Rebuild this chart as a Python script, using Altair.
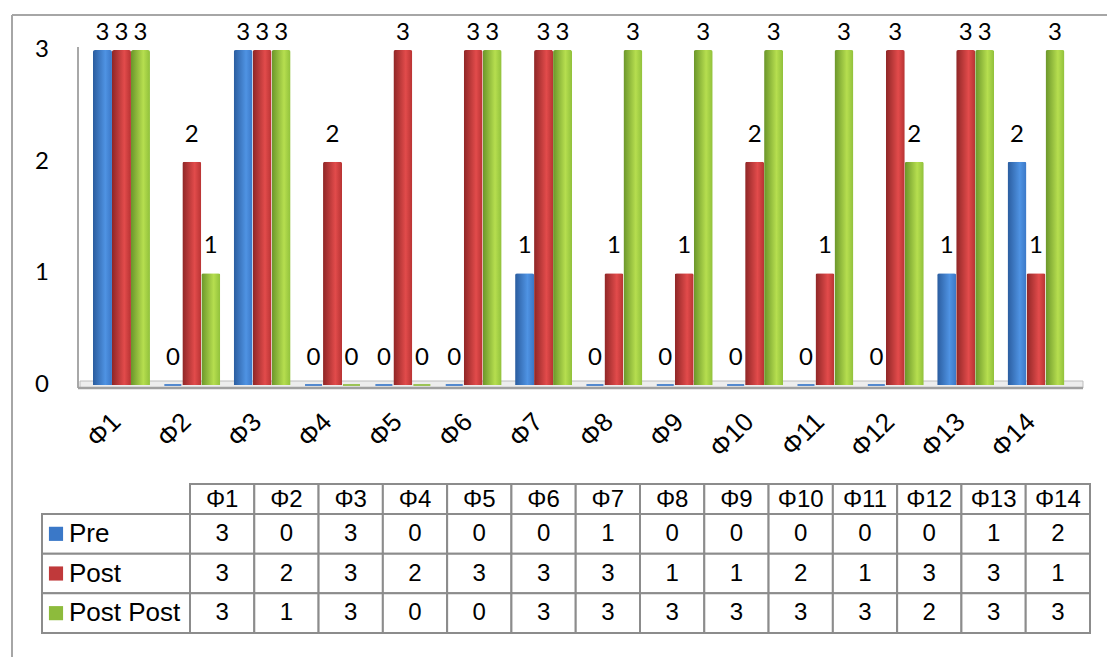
import altair as alt
import pandas as pd

# ---- data -------------------------------------------------------------
categories = ["Φ1", "Φ2", "Φ3", "Φ4", "Φ5", "Φ6", "Φ7",
              "Φ8", "Φ9", "Φ10", "Φ11", "Φ12", "Φ13", "Φ14"]
series = ["Pre", "Post", "Post Post"]
pre = [3, 0, 3, 0, 0, 0, 1, 0, 0, 0, 0, 0, 1, 2]
post = [3, 2, 3, 2, 3, 3, 3, 1, 1, 2, 1, 3, 3, 1]
post_post = [3, 1, 3, 0, 0, 3, 3, 3, 3, 3, 3, 2, 3, 3]
y_ticks = [0, 1, 2, 3]

records = []
for s, vals in zip(series, [pre, post, post_post]):
    for c, v in zip(categories, vals):
        records.append({"cat": c, "series": s, "value": v})
df = pd.DataFrame(records)
cats_df = pd.DataFrame({"cat": categories})
series_df = pd.DataFrame({"series": series})
ticks_df = pd.DataFrame({"v": y_ticks})

# ---- layout / style ---------------------------------------------------
W, H = 1107, 657
GRID = "#8C8C8C"
FRAME = "#A6A6A6"
flat_colors = ["#3A78C8", "#C0393A", "#8DBB3C"]
gradients = {
    "Pre": ["#2A5C9E", "#4F93E3", "#3B77C6"],
    "Post": ["#8E2626", "#E24B4B", "#B73333"],
    "Post Post": ["#6A952A", "#B6DE4F", "#90C03B"],
}

x_bar = alt.X("cat:N", sort=categories, axis=None,
              scale=alt.Scale(domain=categories, range=[86.3, 1071.2],
                              paddingInner=0.19, paddingOuter=0.095))
y_val = alt.Y("value:Q", axis=None,
              scale=alt.Scale(domain=[0, 3], range=[385, 50], nice=False))
x_off = alt.XOffset("series:N", sort=series,
                    scale=alt.Scale(type="band", domain=series,
                                    paddingInner=0, paddingOuter=0))

col_x = alt.X("cat:N", sort=categories, axis=None,
              scale=alt.Scale(domain=categories, range=[190, 1090],
                              paddingInner=0, paddingOuter=0))
row_y = alt.Y("series:N", sort=series, axis=None,
              scale=alt.Scale(domain=series, range=[514, 633],
                              paddingInner=0, paddingOuter=0))

# ---- chart frame, back wall and floor ----------------------------------
frame_top = alt.Chart(cats_df.head(1)).mark_rule(color=FRAME, strokeWidth=2).encode(
    x=alt.value(12), x2=alt.value(W), y=alt.value(15))
frame_left = alt.Chart(cats_df.head(1)).mark_rule(color=FRAME, strokeWidth=2).encode(
    x=alt.value(12), y=alt.value(15), y2=alt.value(H))
wall = alt.Chart(cats_df.head(1)).mark_rule(color="#A8A8A8", strokeWidth=2).encode(
    x=alt.value(78), y=alt.value(47), y2=alt.value(388))
floor = alt.Chart(cats_df.head(1)).mark_rect(fill="#EDEDED", stroke="#BDBDBD",
                                             strokeWidth=1).encode(
    x=alt.value(80), x2=alt.value(1083), y=alt.value(381), y2=alt.value(388))
floor_edge = alt.Chart(cats_df.head(1)).mark_rule(color="#A0A0A0", strokeWidth=2.5).encode(
    x=alt.value(78), x2=alt.value(1083), y=alt.value(388))

# ---- cylinder-shaded bars, one layer per series ------------------------
def shade(cols):
    return alt.Gradient(
        gradient="linear", x1=0, x2=1, y1=0, y2=0,
        stops=[alt.GradientStop(color=cols[0], offset=0),
               alt.GradientStop(color=cols[1], offset=0.65),
               alt.GradientStop(color=cols[2], offset=1)])

bar_layers = []
for s in series:
    g = shade(gradients[s])
    bar_layers.append(
        alt.Chart(df).transform_filter(alt.datum.series == s)
        .mark_bar(fill=g, cornerRadiusTopLeft=2, cornerRadiusTopRight=2)
        .encode(x=x_bar, xOffset=x_off, y=y_val)
    )

# flat slivers left on the floor by zero-valued bars
zero_bars = alt.Chart(df).transform_filter(alt.datum.value == 0).mark_tick(
    thickness=2, size=17, opacity=0.85
).encode(x=x_bar, xOffset=x_off, y=y_val,
         color=alt.Color("series:N", legend=None,
                         scale=alt.Scale(domain=series, range=flat_colors)))

label_font = "Lato"
labels_top = alt.Chart(df).transform_filter(alt.datum.value >= 3).mark_text(
    font=label_font, fontSize=24, baseline="bottom", dy=-5, color="black"
).encode(x=x_bar, xOffset=x_off, y=y_val, text="value:Q")
labels_low = alt.Chart(df).transform_filter(alt.datum.value < 3).mark_text(
    font=label_font, fontSize=24, baseline="bottom", dy=-15, color="black"
).encode(x=x_bar, xOffset=x_off, y=y_val, text="value:Q")

# ---- axis labels -------------------------------------------------------
x_labels = alt.Chart(cats_df).mark_text(
    font="Liberation Sans", fontSize=26, angle=315, align="right",
    baseline="middle", color="black", dx=-7
).encode(x=x_bar, y=alt.value(413), text="cat:N")
y_labels = alt.Chart(ticks_df).mark_text(
    font=label_font, fontSize=24, align="center", baseline="middle", color="black"
).encode(x=alt.value(42),
         y=alt.Y("v:Q", axis=None,
                 scale=alt.Scale(domain=[0, 3], range=[385, 50], nice=False)),
         text="v:Q")

# ---- data table ---------------------------------------------------------
tfont = "Liberation Sans"
tsize = 24
head_cells = alt.Chart(cats_df).mark_rect(fill="white", stroke=GRID, strokeWidth=2).encode(
    x=col_x, y=alt.value(484), y2=alt.value(514))
head_text = alt.Chart(cats_df).mark_text(font=tfont, fontSize=tsize, color="black").encode(
    x=col_x, y=alt.value(500), text="cat:N")
body_cells = alt.Chart(df).mark_rect(fill="white", stroke=GRID, strokeWidth=2).encode(
    x=col_x, y=row_y)
body_text = alt.Chart(df).mark_text(font=tfont, fontSize=tsize, color="black").encode(
    x=col_x, y=row_y, text="value:Q")
row_cells = alt.Chart(series_df).mark_rect(fill="white", stroke=GRID, strokeWidth=2).encode(
    x=alt.value(42), x2=alt.value(190), y=row_y)
row_keys = alt.Chart(series_df).mark_square(size=200, opacity=1).encode(
    x=alt.value(56), y=row_y,
    color=alt.Color("series:N", legend=None,
                    scale=alt.Scale(domain=series, range=flat_colors)))
row_text = alt.Chart(series_df).mark_text(
    font=tfont, fontSize=26, align="left", color="black"
).encode(x=alt.value(69), y=row_y, text="series:N")

chart = alt.layer(
    frame_top, frame_left, wall, floor, floor_edge,
    *bar_layers, zero_bars, labels_top, labels_low, x_labels, y_labels,
    head_cells, head_text, body_cells, body_text, row_cells, row_keys, row_text,
).resolve_scale(
    x="independent", y="independent", xOffset="independent", color="independent"
).properties(
    width=W, height=H, padding=0,
    autosize=alt.AutoSizeParams(type="none"),
    background="white",
).configure_view(stroke=None)

chart.save("out.html", embed_options={"renderer": "svg", "actions": False})
